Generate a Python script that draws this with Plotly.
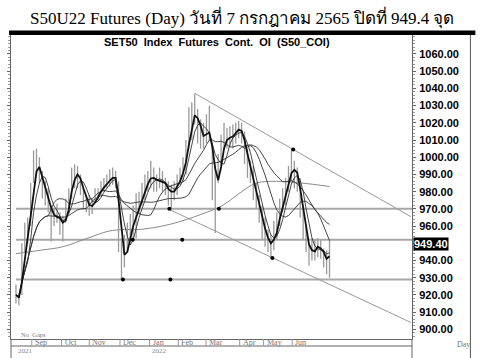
import plotly.graph_objects as go
import pandas as pd

# ---- data (2-trading-day bars, index = trading day) ----
bar_t = list(range(0, 216, 2))
high = [926, 921, 950, 962, 965, 985, 1004, 1005, 1000, 992, 986, 982, 972, 970, 973, 968, 966,
        976, 982, 994, 996, 995, 990, 982, 978, 978, 976, 982, 982, 986, 988, 990, 993, 994, 992,
        986, 953, 955, 962, 967, 972, 979, 980, 985, 990, 992, 998, 994, 990, 994, 992, 988, 986,
        984, 986, 990, 994, 1000, 1010, 1029, 1032, 1037, 1028, 1022, 1020, 1025, 1030, 1008, 995,
        1002, 1013, 1020, 1017, 1018, 1019, 1020, 1021, 1020, 1015, 1005, 998, 995, 985, 978, 972,
        965, 958, 955, 963, 968, 976, 982, 988, 995, 1004, 998, 994, 988, 972, 960, 950, 953, 952,
        953, 952, 947, 946, 952]
low = [915, 914, 920, 945, 950, 960, 985, 990, 985, 976, 972, 968, 951, 960, 962, 955, 951,
       962, 968, 976, 982, 982, 978, 970, 968, 966, 967, 974, 975, 978, 980, 982, 983, 984, 982,
       945, 929, 936, 945, 950, 953, 953, 967, 972, 975, 980, 982, 980, 980, 982, 980, 978, 972,
       969, 975, 978, 984, 986, 990, 1005, 1010, 1019, 1008, 1005, 1005, 1008, 1010, 975, 956,
       985, 995, 1004, 1005, 1006, 1005, 1008, 1011, 1008, 996, 988, 985, 975, 970, 962, 952,
       948, 945, 941, 946, 952, 960, 968, 972, 980, 986, 982, 980, 965, 952, 945, 937, 940, 940,
       942, 941, 936, 932, 930]
close = [920, 917, 945, 955, 960, 982, 998, 995, 990, 980, 978, 972, 962, 966, 968, 960, 958,
         972, 978, 990, 992, 988, 983, 975, 972, 970, 973, 978, 979, 983, 985, 986, 988, 990, 986,
         950, 935, 945, 955, 960, 965, 970, 975, 980, 985, 988, 990, 986, 985, 988, 985, 982, 978,
         980, 982, 986, 990, 996, 1005, 1020, 1025, 1028, 1015, 1012, 1010, 1018, 1015, 985, 980,
         995, 1008, 1012, 1010, 1012, 1014, 1016, 1018, 1012, 1000, 994, 990, 980, 975, 966, 958,
         952, 950, 948, 958, 962, 972, 978, 984, 990, 998, 990, 985, 970, 958, 948, 942, 948, 946,
         950, 945, 940, 938, 949.4]

# long-term average
long_ma_t = [0, 17, 32, 49, 63, 74, 84, 105, 127, 141, 154, 164, 178, 195, 214]
long_ma_v = [944, 946, 948, 953, 957, 958, 958, 961, 967, 972, 980, 985, 986, 985, 983]

ma_windows = [5, 12, 25]

# support / resistance
levels = [970, 952, 929]
level_start = 0
upper_line_t = [122.3, 269.5]
upper_line_v = [1037, 965.5]
lower_line_t = [104.7, 269.5]
lower_line_v = [969.6, 904.0]
dot_t = [104.7, 138.5, 79.7, 113.5, 73, 105.4, 175, 189.2]
dot_v = [970, 970, 952, 952, 929, 929, 941.4, 1004.5]

month_labels = ["Sep", "Oct", "Nov", "Dec", "Jan", "Feb", "Mar", "Apr", "May", "Jun"]
month_pos = [10.8, 31.1, 50, 71, 91.2, 110.8, 129.7, 152.7, 169, 188.5]
year_labels = ["2021", "2022"]
year_pos = [0, 91.2]

y_ticks = [900, 910, 920, 930, 940, 960, 970, 980, 990, 1000, 1010, 1020, 1030, 1040, 1050, 1060]
last_price = 949.4

X0, X1 = -3.4, 270.3
Y0, Y1 = 894.4, 1071.0

fig = go.Figure()

# horizontal level lines
for lv in levels:
    fig.add_trace(go.Scatter(x=[level_start, X1], y=[lv, lv], mode="lines",
                             line=dict(color="#a8a8a8", width=2), hoverinfo="skip"))
# trend lines
fig.add_trace(go.Scatter(x=upper_line_t, y=upper_line_v, mode="lines",
                         line=dict(color="#999999", width=1), hoverinfo="skip"))
fig.add_trace(go.Scatter(x=lower_line_t, y=lower_line_v, mode="lines",
                         line=dict(color="#999999", width=1), hoverinfo="skip"))
# long MA
fig.add_trace(go.Scatter(x=long_ma_t, y=long_ma_v, mode="lines", line_shape="spline",
                         line=dict(color="#8a8a8a", width=1), hoverinfo="skip"))

# high-low bars
bx, by = [], []
for t, h, l in zip(bar_t, high, low):
    bx += [t, t, None]
    by += [l, h, None]
fig.add_trace(go.Scatter(x=bx, y=by, mode="lines", line=dict(color="#9a9a9a", width=1.3),
                         hoverinfo="skip"))

# moving averages
cs = pd.Series(close)
for w in ma_windows:
    fig.add_trace(go.Scatter(x=bar_t, y=cs.rolling(w, min_periods=1).mean(), mode="lines",
                             line=dict(color="#333333", width=0.9), hoverinfo="skip"))
fig.add_trace(go.Scatter(x=bar_t, y=cs.rolling(3, min_periods=1).mean(), mode="lines",
                         line=dict(color="#111111", width=1.8), hoverinfo="skip"))

# dots
fig.add_trace(go.Scatter(x=dot_t, y=dot_v, mode="markers",
                         marker=dict(color="black", size=4), hoverinfo="skip"))

W, H = 481, 358
L, R, T, B = 7, 412, 35, 339
def px(xp):
    return (xp - L) / (R - L)
def py(yp):
    return (B - yp) / (B - T)

shapes = [
    dict(type="rect", xref="paper", yref="paper", x0=px(5), x1=px(476), y0=py(35), y1=py(30.5),
         fillcolor="black", line_width=0, layer="above"),
    dict(type="line", xref="paper", yref="paper", x0=px(471), x1=px(471), y0=py(358), y1=py(35),
         line=dict(color="#555555", width=1)),
    dict(type="line", xref="paper", yref="paper", x0=px(7), x1=px(412), y0=py(346), y1=py(346),
         line=dict(color="#999999", width=1.5)),
    dict(type="line", xref="paper", yref="paper", x0=px(7), x1=px(7), y0=py(358), y1=py(339),
         line=dict(color="#666666", width=1)),
    dict(type="line", xref="paper", yref="paper", x0=px(412), x1=px(412), y0=py(358), y1=py(339),
         line=dict(color="#666666", width=1)),
]

annotations = []
for lab, pos in zip(month_labels, month_pos):
    annotations.append(dict(x=pos, y=py(342.5), xref="x", yref="paper", text=lab,
                            showarrow=False, xanchor="left", yanchor="middle", xshift=1,
                            font=dict(family="Liberation Serif, serif", size=8, color="#777777")))
    shapes.append(dict(type="line", xref="x", yref="paper", x0=pos, x1=pos, y0=py(339), y1=py(346),
                       line=dict(color="#999999", width=1)))
for lab, pos in zip(year_labels, year_pos):
    annotations.append(dict(x=pos, y=py(351), xref="x", yref="paper", text=lab,
                            showarrow=False, xanchor="left", yanchor="middle",
                            font=dict(family="Liberation Serif, serif", size=7, color="#888888")))
annotations += [
    dict(x=px(240), y=py(18), xref="paper", yref="paper",
         text="S50U22 Futures (Day) วันที่ 7 กรกฎาคม 2565 ปิดที่ 949.4 จุด",
         showarrow=False, xanchor="center", yanchor="middle",
         font=dict(family="Liberation Serif, Times New Roman, serif", size=17, color="black")),
    dict(x=px(215), y=py(41.5), xref="paper", yref="paper",
         text="SET50  Index  Futures  Cont.  OI  (S50_COI)",
         showarrow=False, xanchor="center", yanchor="middle",
         font=dict(family="Liberation Sans, Arial, sans-serif", size=11, color="black", weight="bold")),
    dict(x=px(15), y=py(334.5), xref="paper", yref="paper", text="No  Gaps",
         showarrow=False, xanchor="left", yanchor="middle",
         font=dict(family="Liberation Serif, serif", size=6.5, color="#777777")),
    dict(x=px(455), y=py(344), xref="paper", yref="paper", text="Day",
         showarrow=False, xanchor="left", yanchor="middle",
         font=dict(family="Liberation Serif, serif", size=8, color="#777777")),
    dict(x=px(413), y=last_price, xref="paper", yref="y", text="%.2f" % last_price,
         showarrow=False, xanchor="left", yanchor="middle", bgcolor="black", borderpad=0,
         font=dict(family="Liberation Sans, Arial, sans-serif", size=11, color="white", weight="bold")),
]

fig.update_layout(
    width=W, height=H, margin=dict(l=L, r=W - R, t=T, b=H - B),
    paper_bgcolor="white", plot_bgcolor="white", showlegend=False,
    shapes=shapes, annotations=annotations,
    xaxis=dict(range=[X0, X1], showgrid=False, zeroline=False, showticklabels=False,
               ticks="", showline=True, linecolor="#666666", linewidth=1, fixedrange=True),
    yaxis=dict(range=[Y0, Y1], side="right", showgrid=False, zeroline=False,
               tickvals=y_ticks, tickformat=".2f", ticks="outside", ticklen=3,
               tickcolor="#666666", showline=True, linecolor="#666666", linewidth=1,
               mirror="ticks", ticklabelstandoff=1,
               minor=dict(dtick=2, tick0=900, ticks="outside", ticklen=2, tickcolor="#999999"),
               tickfont=dict(family="Liberation Sans, Arial, sans-serif", size=11,
                             color="black", weight="bold")),
)

fig.write_html("out.html", config={"displayModeBar": False},
               post_script="document.body.style.margin='0';document.body.style.padding='0';")
